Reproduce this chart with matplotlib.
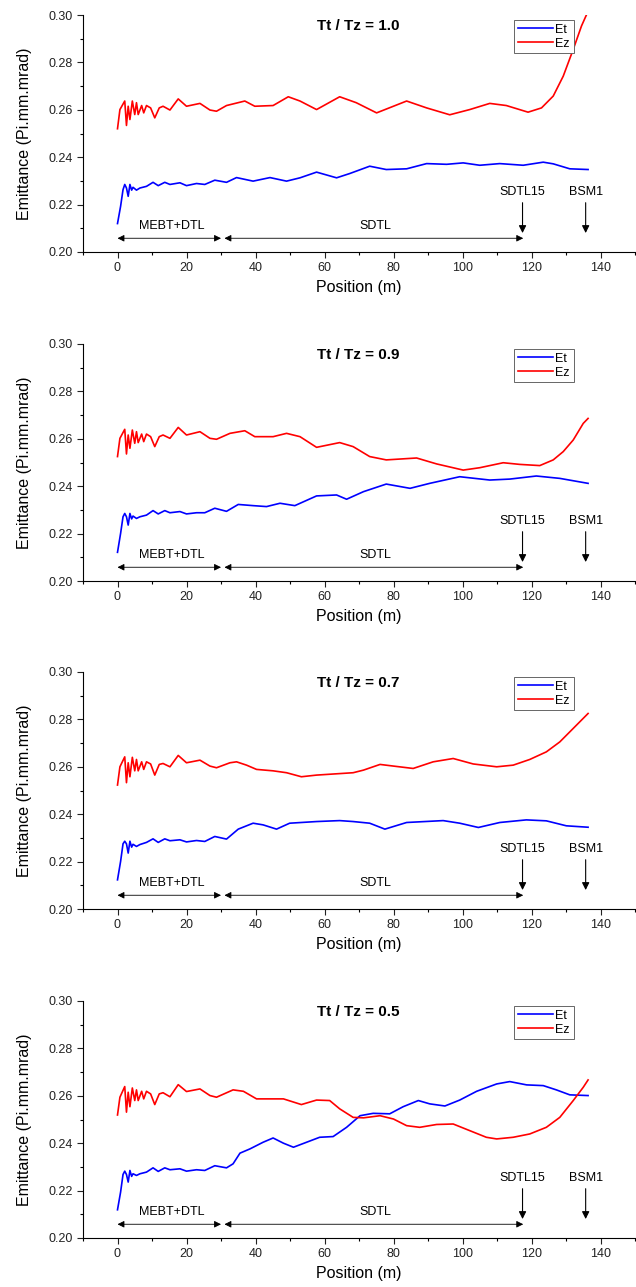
import numpy as np
import matplotlib
matplotlib.use("Agg")
import matplotlib.pyplot as plt
from matplotlib.ticker import MultipleLocator

plt.rcParams['font.family'] = ['Liberation Sans', 'DejaVu Sans']

# ---- data (position in m, emittance in Pi.mm.mrad) ----
# early part (MEBT+DTL, noisy) uses the same sample positions in all panels
x_early = [0.0, 0.7, 2.1, 2.6, 3.1, 3.6, 4.3, 5.0, 5.5, 6.0, 7.0, 7.6, 8.4,
           9.6, 10.8, 12.1, 13.2, 15.2, 17.6, 20.0, 23.9, 26.8, 28.7]
x_early_t = [0.0, 0.9, 1.6, 2.1, 2.6, 3.1, 3.6, 4.1, 4.5, 5.5, 6.5, 8.4, 10.3,
             11.8, 13.7, 15.2, 18.1, 20.0, 22.9, 25.3, 28.2, 31.6]

titles = ['Tt / Tz = 1.0', 'Tt / Tz = 0.9', 'Tt / Tz = 0.7', 'Tt / Tz = 0.5']

# Tt/Tz = 1.0
ez1_x = x_early + [31.6, 36.9, 39.8, 45.1, 49.5, 52.9, 57.7, 64.4, 69.2, 75.1, 83.8,
                   89.6, 96.3, 102.1, 107.9, 112.7, 119.0, 122.9, 126.3, 129.2,
                   132.1, 134.5, 136.0]
ez1_y = [0.2520, 0.2601, 0.2637, 0.2534, 0.2615, 0.2559, 0.2637, 0.2580, 0.2630,
         0.2580, 0.2618, 0.2587, 0.2618, 0.2608, 0.2566, 0.2608, 0.2615, 0.2599,
         0.2646, 0.2615, 0.2627, 0.2599, 0.2594,
         0.2618, 0.2637, 0.2615, 0.2618, 0.2655, 0.2637, 0.2601, 0.2655, 0.2630,
         0.2587, 0.2637, 0.2608, 0.2579, 0.2601, 0.2627, 0.2618, 0.2590, 0.2608,
         0.2658, 0.2742, 0.2855, 0.2954, 0.3003]
et1_x = x_early_t + [34.5, 39.3, 44.2, 49.0, 52.9, 57.7, 63.5, 67.3, 73.1, 77.9, 83.8,
                     89.6, 95.4, 100.2, 105.0, 110.8, 117.6, 123.4, 126.3, 131.1, 136.4]
et1_y = [0.2120, 0.2193, 0.2263, 0.2285, 0.2270, 0.2235, 0.2285, 0.2261, 0.2273,
         0.2261, 0.2270, 0.2277, 0.2294, 0.2280, 0.2294, 0.2285, 0.2292, 0.2280,
         0.2289, 0.2285, 0.2303, 0.2294,
         0.2314, 0.2299, 0.2314, 0.2299, 0.2313, 0.2337, 0.2313, 0.2331, 0.2362,
         0.2348, 0.2351, 0.2373, 0.2370, 0.2376, 0.2366, 0.2373, 0.2366, 0.2379,
         0.2372, 0.2351, 0.2348]

# Tt/Tz = 0.9
ez2_x = x_early + [32.6, 36.9, 39.8, 45.1, 49.0, 52.9, 57.7, 64.4, 68.3, 73.1, 77.9,
                   86.7, 92.5, 100.2, 105.0, 111.8, 116.6, 122.4, 126.3, 129.2,
                   132.1, 135.0, 136.4]
ez2_y = [0.2525, 0.2602, 0.2640, 0.2536, 0.2616, 0.2560, 0.2637, 0.2581, 0.2630,
         0.2584, 0.2620, 0.2588, 0.2620, 0.2609, 0.2567, 0.2609, 0.2616, 0.2602,
         0.2648, 0.2616, 0.2630, 0.2602, 0.2598,
         0.2623, 0.2634, 0.2609, 0.2609, 0.2623, 0.2609, 0.2564, 0.2584, 0.2567,
         0.2525, 0.2511, 0.2519, 0.2494, 0.2468, 0.2478, 0.2499, 0.2492, 0.2487,
         0.2511, 0.2546, 0.2595, 0.2665, 0.2686]
et2_x = x_early_t + [35.0, 39.3, 43.2, 47.1, 51.4, 57.7, 63.5, 66.4, 71.3, 77.9, 84.8,
                     90.5, 99.2, 107.9, 113.7, 121.4, 128.2, 136.4]
et2_y = [0.2121, 0.2201, 0.2271, 0.2285, 0.2271, 0.2236, 0.2285, 0.2262, 0.2274,
         0.2264, 0.2271, 0.2278, 0.2297, 0.2283, 0.2297, 0.2288, 0.2293, 0.2283,
         0.2288, 0.2288, 0.2307, 0.2294,
         0.2323, 0.2318, 0.2314, 0.2328, 0.2318, 0.2359, 0.2363, 0.2345, 0.2377,
         0.2409, 0.2391, 0.2412, 0.2440, 0.2426, 0.2430, 0.2443, 0.2433, 0.2412]

# Tt/Tz = 0.7
ez3_x = x_early + [32.6, 34.5, 37.4, 40.3, 45.1, 49.0, 53.3, 57.7, 68.3, 71.3, 76.1,
                   80.0, 85.7, 91.5, 97.3, 103.1, 109.9, 114.7, 119.5, 124.3,
                   128.2, 132.1, 136.4]
ez3_y = [0.2523, 0.2600, 0.2642, 0.2533, 0.2617, 0.2558, 0.2640, 0.2583, 0.2631,
         0.2583, 0.2621, 0.2589, 0.2621, 0.2612, 0.2565, 0.2610, 0.2614, 0.2600,
         0.2648, 0.2617, 0.2628, 0.2603, 0.2596,
         0.2617, 0.2621, 0.2607, 0.2589, 0.2583, 0.2575, 0.2558, 0.2565, 0.2575,
         0.2586, 0.2610, 0.2603, 0.2593, 0.2621, 0.2635, 0.2612, 0.2600, 0.2607,
         0.2631, 0.2663, 0.2705, 0.2762, 0.2825]
et3_x = x_early_t + [35.0, 39.3, 42.2, 46.1, 49.9, 57.7, 64.4, 68.3, 73.1, 77.5, 83.8,
                     94.4, 99.2, 104.6, 110.8, 118.5, 124.3, 130.1, 136.4]
et3_y = [0.2123, 0.2201, 0.2275, 0.2286, 0.2275, 0.2236, 0.2286, 0.2261, 0.2273,
         0.2264, 0.2272, 0.2281, 0.2296, 0.2281, 0.2296, 0.2288, 0.2292, 0.2283,
         0.2289, 0.2285, 0.2306, 0.2295,
         0.2337, 0.2362, 0.2355, 0.2337, 0.2362, 0.2369, 0.2373, 0.2369, 0.2362,
         0.2337, 0.2365, 0.2373, 0.2362, 0.2344, 0.2365, 0.2376, 0.2372, 0.2351, 0.2345]

# Tt/Tz = 0.5
ez4_x = x_early + [33.5, 36.5, 40.3, 48.1, 53.3, 57.7, 61.5, 64.4, 68.3, 71.3, 76.1,
                   80.0, 83.8, 87.6, 92.5, 97.3, 102.1, 106.9, 109.9, 114.7,
                   119.5, 124.3, 128.2, 132.1, 135.0, 136.4]
ez4_y = [0.2519, 0.2594, 0.2639, 0.2531, 0.2615, 0.2554, 0.2633, 0.2580, 0.2625,
         0.2580, 0.2619, 0.2587, 0.2619, 0.2608, 0.2563, 0.2608, 0.2613, 0.2596,
         0.2647, 0.2618, 0.2629, 0.2601, 0.2594,
         0.2625, 0.2619, 0.2587, 0.2587, 0.2563, 0.2582, 0.2580, 0.2545, 0.2509,
         0.2507, 0.2516, 0.2502, 0.2474, 0.2467, 0.2479, 0.2481, 0.2453, 0.2425,
         0.2418, 0.2425, 0.2439, 0.2467, 0.2509, 0.2580, 0.2636, 0.2667]
et4_x = x_early_t + [33.5, 35.5, 38.4, 42.2, 45.1, 48.1, 51.0, 54.8, 58.6, 62.5, 66.4,
                     70.3, 74.1, 78.9, 82.8, 87.2, 90.5, 94.9, 99.2, 104.1, 109.9,
                     113.7, 118.6, 123.4, 127.2, 131.1, 136.4]
et4_y = [0.2119, 0.2194, 0.2268, 0.2282, 0.2268, 0.2236, 0.2285, 0.2260, 0.2271,
         0.2264, 0.2271, 0.2278, 0.2296, 0.2281, 0.2296, 0.2288, 0.2292, 0.2282,
         0.2288, 0.2285, 0.2305, 0.2296,
         0.2313, 0.2358, 0.2376, 0.2404, 0.2422, 0.2400, 0.2383, 0.2404, 0.2425,
         0.2428, 0.2467, 0.2516, 0.2526, 0.2524, 0.2554, 0.2580, 0.2566, 0.2557,
         0.2582, 0.2619, 0.2650, 0.2660, 0.2646, 0.2643, 0.2625, 0.2604, 0.2601]

et_x = [et1_x, et2_x, et3_x, et4_x]
et_y = [et1_y, et2_y, et3_y, et4_y]
ez_x = [ez1_x, ez2_x, ez3_x, ez4_x]
ez_y = [ez1_y, ez2_y, ez3_y, ez4_y]

# section markers
mebt_range = (0, 30)
sdtl_range = (31, 117.6)
sdtl15_pos = 117.4
bsm1_pos = 135.7

fig = plt.figure(figsize=(6.36, 12.87), dpi=100)
W, H = 636.0, 1287.0
bottoms_px = [252, 581, 909, 1238]
h_px = 237

for i in range(4):
    ax = fig.add_axes([83 / W, 1 - bottoms_px[i] / H, 552 / W, h_px / H])
    ax.plot(et_x[i], et_y[i], color='#0000ff', lw=1.2, label='Et')
    ax.plot(ez_x[i], ez_y[i], color='#ff0000', lw=1.2, label='Ez')

    ax.set_xlim(-10, 150)
    ax.set_ylim(0.20, 0.30)
    ax.xaxis.set_major_locator(MultipleLocator(20))
    ax.xaxis.set_minor_locator(MultipleLocator(10))
    ax.yaxis.set_major_locator(MultipleLocator(0.02))
    ax.yaxis.set_minor_locator(MultipleLocator(0.01))
    ax.set_xticks([0, 20, 40, 60, 80, 100, 120, 140])
    ax.yaxis.set_major_formatter(plt.FormatStrFormatter('%.2f'))
    ax.spines['top'].set_visible(False)
    ax.spines['right'].set_visible(False)
    ax.tick_params(which='major', length=4, width=0.8, labelsize=9, colors='#222222')
    ax.tick_params(which='minor', length=2.5, width=0.8)
    ax.set_xlabel('Position (m)', fontsize=11.5, labelpad=4)
    ax.set_ylabel('Emittance (Pi.mm.mrad)', fontsize=11.5, labelpad=12)

    ax.text(69.8, 0.2955, titles[i], ha='center', va='center',
            fontsize=11, fontweight='bold')
    leg = ax.legend(loc='upper right', bbox_to_anchor=(0.90, 1.005), fontsize=9,
                    handlelength=2.8, handletextpad=0.2, borderpad=0.3,
                    labelspacing=0.15, fancybox=False, framealpha=1)
    leg.get_frame().set_edgecolor('#666666')
    leg.get_frame().set_linewidth(0.7)

    aprops = dict(arrowstyle='<|-|>', color='black', lw=0.6,
                  mutation_scale=10, shrinkA=0, shrinkB=0)
    ax.annotate('', xy=(mebt_range[1], 0.2058), xytext=(mebt_range[0], 0.2058),
                arrowprops=aprops)
    ax.annotate('', xy=(sdtl_range[1], 0.2058), xytext=(sdtl_range[0], 0.2058),
                arrowprops=aprops)
    ax.text(15.7, 0.2108, 'MEBT+DTL', ha='center', va='center', fontsize=9)
    ax.text(74.6, 0.2108, 'SDTL', ha='center', va='center', fontsize=9)

    dprops = dict(arrowstyle='-|>', color='black', lw=0.8,
                  mutation_scale=11, shrinkA=0, shrinkB=0)
    ax.annotate('', xy=(sdtl15_pos, 0.2080), xytext=(sdtl15_pos, 0.2208),
                arrowprops=dprops)
    ax.annotate('', xy=(bsm1_pos, 0.2080), xytext=(bsm1_pos, 0.2208),
                arrowprops=dprops)
    ax.text(sdtl15_pos, 0.2252, 'SDTL15', ha='center', va='center', fontsize=9)
    ax.text(bsm1_pos, 0.2252, 'BSM1', ha='center', va='center', fontsize=9)

fig.savefig('out.png', dpi=100)
